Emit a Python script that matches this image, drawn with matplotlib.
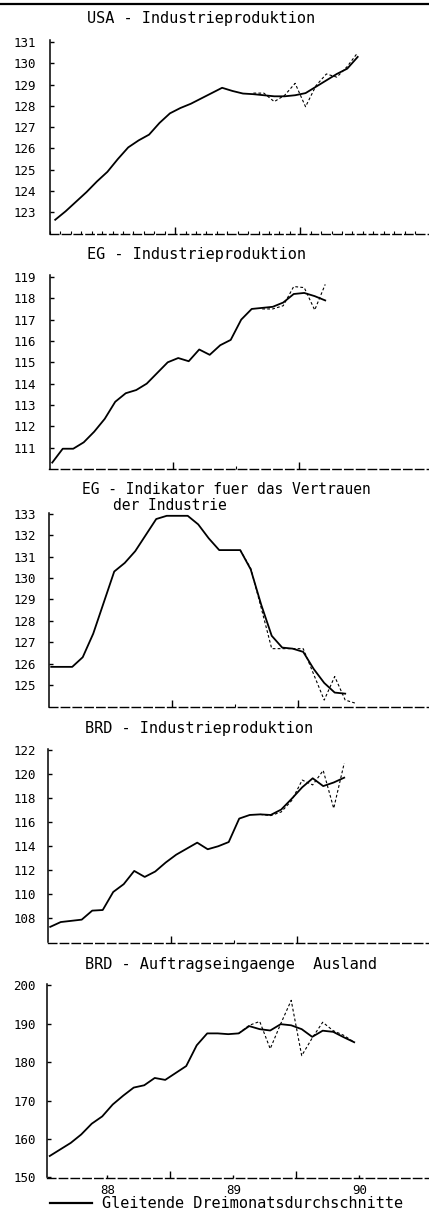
import numpy as np
import matplotlib
matplotlib.use('Agg')
import matplotlib.pyplot as plt
from matplotlib.lines import Line2D

W, H = 429, 1232

# monthly values starting Jul 1987; *_avg = gleitende 3-Monatsdurchschnitte,
# *_monthly = einzelne Monatswerte (gestrichelt), beginning at index *_from
usa_avg = [122.65, 123.05, 123.5, 123.95, 124.45, 124.9, 125.5, 126.05, 126.38, 126.65,
           127.2, 127.65, 127.9, 128.1, 128.35, 128.6, 128.85, 128.7, 128.58, 128.55,
           128.5, 128.45, 128.45, 128.5, 128.6, 128.9, 129.2, 129.5, 129.75, 130.3]
usa_monthly = [128.6, 128.6, 128.2, 128.5, 129.06, 127.96, 128.95, 129.5, 129.35, 129.85, 130.5]
usa_from = 19

eg_avg = [110.3, 110.95, 110.95, 111.25, 111.75, 112.35, 113.15, 113.55, 113.7, 114.0,
          114.5, 115.0, 115.2, 115.05, 115.6, 115.35, 115.8, 116.05, 117.0, 117.5,
          117.55, 117.6, 117.8, 118.2, 118.25, 118.1, 117.9]
eg_monthly = [117.5, 117.5, 117.65, 118.55, 118.5, 117.45, 118.65]
eg_from = 20

conf_avg = [125.85, 125.85, 125.85, 126.3, 127.4, 128.85, 130.3, 130.7, 131.25, 132.0,
            132.75, 132.9, 132.9, 132.9, 132.5, 131.85, 131.3, 131.3, 131.3, 130.4,
            128.75, 127.3, 126.75, 126.7, 126.55, 125.75, 125.1, 124.65, 124.6]
conf_monthly = [131.3, 130.45, 128.6, 126.7, 126.7, 126.7, 126.7, 125.5, 124.3, 125.4, 124.3, 124.15]
conf_from = 18

brd_avg = [107.3, 107.7, 107.8, 107.9, 108.65, 108.7, 110.2, 110.85, 111.95, 111.45,
           111.9, 112.65, 113.3, 113.8, 114.3, 113.75, 114.0, 114.35, 116.3, 116.6,
           116.65, 116.6, 117.05, 117.95, 118.9, 119.65, 119.0, 119.3, 119.7]
brd_monthly = [116.65, 116.55, 116.85, 117.8, 119.5, 119.1, 120.3, 117.15, 120.9]
brd_from = 20

orders_avg = [155.6, 157.3, 159.0, 161.2, 164.0, 165.9, 169.0, 171.3, 173.4, 174.0,
              175.9, 175.4, 177.2, 179.0, 184.4, 187.5, 187.5, 187.3, 187.5, 189.4,
              188.6, 188.25, 189.9, 189.6, 188.6, 186.6, 188.2, 187.9, 186.5, 185.2]
orders_monthly = [187.5, 189.6, 190.6, 183.5, 190.0, 196.1, 181.7, 186.3, 190.4, 188.2, 187.0, 185.2]
orders_from = 18

year_ticks = [1988, 1989, 1990]
year_labels = ['88', '89', '90']
legend_text = 'Gleitende Dreimonatsdurchschnitte'

plt.rcParams['font.family'] = ['DejaVu Sans Mono']


def month_x(start, n):
    # plot each month at mid-month, Jul 1987 = index 0
    return 1987.5 + (np.arange(start, start + n) + 0.5) / 12


def draw_panel(fig, left, top, bottom, ylim, yticks, avg, monthly, monthly_from, monthly_ticks=False):
    ax = fig.add_axes([left / W, 1 - bottom / H, 382 / W, (bottom - top) / H])
    ax.patch.set_visible(False)
    ax.plot(month_x(0, len(avg)), avg, color='black', lw=1.3, solid_joinstyle='round')
    ax.plot(month_x(monthly_from, len(monthly)), monthly, color='black', lw=0.8, dashes=(2.5, 2))
    ax.set_xlim(1987.52, 1990.552)
    ax.set_ylim(*ylim)
    ax.set_yticks(yticks)
    ax.tick_params(axis='y', direction='in', length=3, width=1, pad=(left - 36) * 0.72, labelsize=9)

    for s in ['top', 'right']:
        ax.spines[s].set_visible(False)
    ax.spines['left'].set_linewidth(1.1)
    ax.spines['bottom'].set_linewidth(1.0)
    ax.spines['bottom'].set_linestyle((0, (6, 2.5)))

    ax.set_xticks([1988.5, 1989.5])
    ax.set_xticklabels([])
    if monthly_ticks:
        ax.set_xticks(month_x(0, 36) - 0.5 / 12, minor=True)
    else:
        ax.set_xticks([1989.0], minor=True)
    ax.tick_params(axis='x', which='major', direction='in', length=5, width=1)
    ax.tick_params(axis='x', which='minor', direction='in', length=2, width=0.8)
    return ax


def title(fig, x, y, text, size=11):
    fig.text(x / W, 1 - y / H, text, ha='left', va='center', fontsize=size)


def main():
    fig = plt.figure(figsize=(W / 100, H / 100), dpi=100)

    # scan border at the very top
    fig.add_artist(Line2D([0, 1], [1 - 3.5 / H] * 2, color='black', lw=1.6))

    draw_panel(fig, 50, 39.9, 233.6, (122, 131.1), range(123, 132), usa_avg, usa_monthly, usa_from, True)
    title(fig, 87, 18, 'USA - Industrieproduktion')

    draw_panel(fig, 49.5, 274.8, 469, (110, 119.1), range(111, 120), eg_avg, eg_monthly, eg_from)
    title(fig, 87, 255, 'EG - Industrieproduktion')

    draw_panel(fig, 48.5, 512.6, 706.5, (124, 133.05), range(125, 134), conf_avg, conf_monthly, conf_from)
    title(fig, 82, 489, 'EG - Indikator fuer das Vertrauen', 10.5)
    title(fig, 113, 506, 'der Industrie', 10.5)

    draw_panel(fig, 47.5, 748.8, 942.5, (106, 122.1), range(108, 123, 2), brd_avg, brd_monthly, brd_from)
    title(fig, 85, 728, 'BRD - Industrieproduktion')

    ax = draw_panel(fig, 47, 984.2, 1177.5, (150, 200.3), range(150, 201, 10),
                    orders_avg, orders_monthly, orders_from)
    title(fig, 85, 965, 'BRD - Auftragseingaenge  Ausland')
    ax.set_xticks(year_ticks)
    ax.set_xticklabels(year_labels)
    ax.set_xticks([1988.5, 1989.5], minor=True)
    ax.tick_params(axis='x', which='major', direction='in', length=2, pad=4.5, labelsize=9)
    ax.tick_params(axis='x', which='minor', direction='in', length=5, width=1)

    # legend for the solid line
    fig.add_artist(Line2D([50 / W, 92 / W], [1 - 1203 / H] * 2, color='black', lw=1.6))
    fig.text(102 / W, 1 - 1203 / H, legend_text, ha='left', va='center', fontsize=11)

    fig.savefig('out.png', dpi=100)


main()
